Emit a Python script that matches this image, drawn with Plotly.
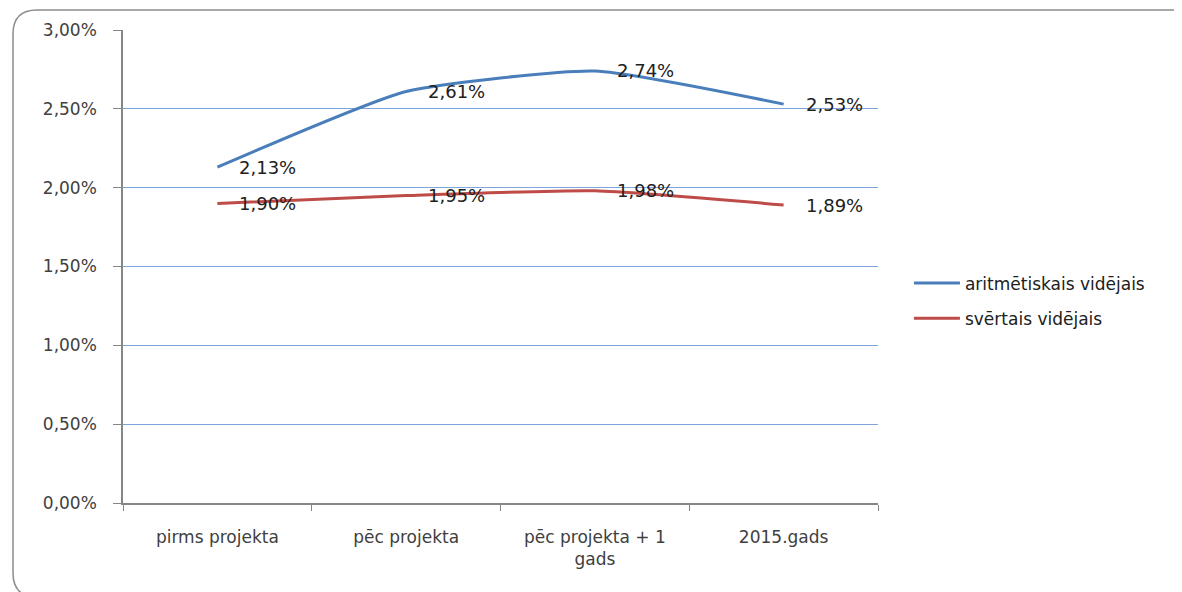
import plotly.graph_objects as go

categories = ["pirms projekta", "pēc projekta", "pēc projekta + 1<br>gads", "2015.gads"]
arit_values = [2.13, 2.61, 2.74, 2.53]
sver_values = [1.90, 1.95, 1.98, 1.89]
arit_labels = ["2,13%", "2,61%", "2,74%", "2,53%"]
sver_labels = ["1,90%", "1,95%", "1,98%", "1,89%"]
y_ticks = [0, 0.5, 1.0, 1.5, 2.0, 2.5, 3.0]
y_tick_labels = ["0,00%", "0,50%", "1,00%", "1,50%", "2,00%", "2,50%", "3,00%"]

OFF = 8  # page body margin
PAGE_W, PAGE_H = 1182, 592
W, H = PAGE_W - OFF, PAGE_H - OFF
L, R, T, B = 123 - OFF, PAGE_W - 878, 30 - OFF, PAGE_H - 503
PW, PH = W - L - R, H - T - B

FONT = "'DejaVu Sans', Verdana, sans-serif"
TXT = "#404040"

fig = go.Figure()
fig.add_trace(go.Scatter(
    x=categories, y=arit_values, mode="lines", name="aritmētiskais vidējais",
    line=dict(color="#4a7ebb", width=3, shape="spline", smoothing=0.5),
    legendgroup="a"))
fig.add_trace(go.Scatter(
    x=categories, y=sver_values, mode="lines", name="svērtais vidējais",
    line=dict(color="#be4b48", width=3, shape="spline", smoothing=0.5),
    legendgroup="b"))

for xs, ys, labs in [(categories, arit_values, arit_labels), (categories, sver_values, sver_labels)]:
    for c, v, t in zip(xs, ys, labs):
        fig.add_annotation(x=c, y=v, text=t, showarrow=False, xanchor="left",
                           yanchor="middle", xshift=20, yshift=0,
                           font=dict(family=FONT, size=18, color="#202020"))

def px2paper(px, py):
    # px, py in page pixel coordinates
    return (px - OFF - L) / PW, (H - B - (py - OFF)) / PH

# rounded border (bottom edge lies just below the visible area)
x0, y0, x1, y1, r = 13, 10, 1200, 597, 24
rx, ry = r / PW, r / PH
ax0, ay0 = px2paper(x0, y0)
ax1, ay1 = px2paper(x1, y1)
path = (f"M {ax0 + rx} {ay1} "
        f"Q {ax0} {ay1} {ax0} {ay1 + ry} L {ax0} {ay0 - ry} Q {ax0} {ay0} {ax0 + rx} {ay0} "
        f"L {ax1} {ay0}")
fig.add_shape(type="path", path=path, xref="paper", yref="paper",
              line=dict(color="#8c8c8c", width=1.5), layer="below")

fig.update_layout(
    width=W, height=H,
    margin=dict(l=L, r=R, t=T, b=B, pad=0),
    paper_bgcolor="white", plot_bgcolor="white",
    font=dict(family=FONT, size=17, color=TXT),
    showlegend=True,
    legend=dict(x=1.041, y=0.427, xanchor="left", yanchor="middle",
                font=dict(family=FONT, size=17, color="#202020"),
                traceorder="grouped", tracegroupgap=10,
                bgcolor="rgba(0,0,0,0)", itemwidth=46),
    xaxis=dict(type="category", range=[-0.5, 3.5], showgrid=False,
               showline=True, linecolor="#868686", linewidth=1.5,
               ticks="outside", ticklen=6, tickcolor="#868686", tickson="boundaries",
               ticklabelstandoff=18,
               tickfont=dict(family=FONT, size=17, color=TXT), fixedrange=True),
    yaxis=dict(range=[0, 3.0], tickvals=y_ticks, ticktext=y_tick_labels,
               showgrid=True, gridcolor="#7ea6dc", gridwidth=1,
               showline=True, linecolor="#868686", linewidth=1.5,
               ticks="outside", ticklen=8, tickcolor="#868686",
               ticklabelstandoff=13, zeroline=False,
               tickfont=dict(family=FONT, size=17, color=TXT), fixedrange=True),
)

fig.write_html("out.html")
